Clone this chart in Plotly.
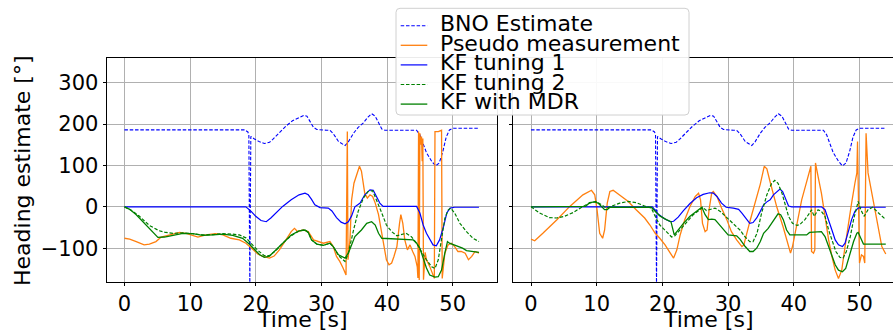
import plotly.graph_objects as go

W, H = 893, 332

# ---- data: time [s] and heading [deg] ----
bno_t = [0, 18.3, 18.8, 18.95, 19.1, 19.25, 19.8, 20.6, 21.3, 22.1, 22.6, 23.6, 24.6, 25.6,
         26.6, 27.3, 27.8, 28.3, 28.8, 29.3, 29.8, 30.8, 31.3, 31.8, 32.6, 33.3, 33.6, 34.1,
         34.9, 35.6, 36.0, 36.4, 37.1, 37.65, 38.2, 38.7, 39.2, 39.7, 44.5, 45.0, 45.5, 46.0,
         46.8, 47.4, 47.95, 48.5, 49.0, 49.5, 50.1, 54.0]
bno_v = [186, 186, 181, 174, -190, 170, 164, 157, 153, 156, 163, 180, 195, 208,
         216, 221, 219, 205, 192, 187, 186, 185, 185, 177, 158, 150, 148, 157,
         178, 192, 197, 203, 217, 225, 219, 203, 188, 185, 185, 174, 152, 131,
         110, 99, 106, 134, 168, 186, 190, 190]

# left panel
l_pm_t = [0, 0.8, 1.8, 3.0, 3.8, 4.8, 5.6, 6.9, 8.4, 9.4, 10.4, 11.2, 12.4, 13.9, 15.0, 16.2,
          17.5, 18.5, 19.5, 20.3, 21.1, 22.1, 22.8, 23.6, 24.6, 25.4, 25.9, 26.4, 27.2, 28.0,
          28.8, 29.5, 30.3, 31.3, 31.8, 32.3, 32.8, 33.3, 33.75, 33.95, 34.05, 34.35, 34.6,
          34.96, 35.4, 35.8, 36.1, 36.4, 36.6, 37.0, 37.4, 37.8, 38.2, 38.7, 39.2, 39.6, 39.9,
          40.3, 40.7, 41.05, 41.5, 41.9, 42.1, 42.4, 42.7, 43.1, 43.5, 43.9, 44.25, 44.6, 44.7,
          44.8, 44.9, 45.0, 45.1, 45.25, 45.35, 45.45, 45.55, 45.8, 46.0, 46.5, 46.9, 47.2,
          47.3, 47.8, 48.3, 48.4, 48.8, 49.3, 49.8, 50.3, 50.8, 51.3, 51.9, 52.4, 52.9, 53.4, 54.0]
l_pm_v = [-76, -78, -84, -92, -90, -84, -73, -68, -62, -64, -68, -73, -68, -65, -68, -76,
          -80, -88, -102, -114, -120, -124, -119, -104, -80, -60, -52, -60, -56, -60,
          -80, -84, -88, -84, -96, -120, -132, -148, -165, 182, -128, -80, 17,
          57, 81, 98, 86, 57, 33, 21, 29, 25, 9, -19, -64, -104, -128,
          -140, -136, -120, -96, -40, -19, -40, -80, -104, -92, -108, -120, -145, -172,
          182, -177, 178, 150, 170, 110, 165, -176, -110, -128, -144, -161, -173,
          182, 182, 185, -173, -112, -92, -88, -96, -108, -108, -112, -128, -120, -108, -112]

l_kf1_t = [0, 18.5, 19.3, 20.0, 20.8, 21.6, 22.3, 23.1, 24.1, 25.4, 26.6, 27.5, 28.0, 28.5,
           29.0, 29.8, 31.05, 31.6, 32.3, 33.0, 33.6, 34.1, 34.6, 35.1, 35.9, 36.6, 37.4,
           37.9, 38.4, 38.9, 39.4, 44.5, 45.0, 45.5, 46.0, 46.5, 47.0, 47.5, 48.0, 48.6,
           49.1, 49.6, 50.3, 54.0]
l_kf1_v = [0, 0, -11, -23, -33, -36, -27, -14, 1, 17, 29, 33, 29, 18,
           5, -2, -3, -10, -26, -37, -41, -36, -22, 0, 9, 29, 41,
           40, 25, 9, 1, 1, -15, -44, -64, -80, -92, -94, -80, -48,
           -15, -3, -1, -1]

l_kf2_t = [0, 1.0, 2.3, 3.8, 5.3, 6.3, 7.4, 8.9, 10.4, 12.0, 13.5, 15.0, 16.5, 17.5, 18.5,
           19.3, 20.3, 21.3, 22.1, 23.1, 24.1, 25.4, 26.6, 27.5, 28.0, 28.5, 29.3, 30.3,
           31.3, 31.8, 32.6, 33.6, 34.1, 34.9, 35.6, 36.4, 37.1, 37.8, 38.4, 39.2, 39.9,
           40.7, 41.5, 42.2, 42.9, 43.7, 44.5, 45.3, 46.0, 46.8, 47.3, 47.8, 48.3, 48.8,
           49.3, 49.7, 50.3, 51.1, 52.1, 53.1, 54.0]
l_kf2_v = [0, -8, -23, -45, -58, -62, -64, -63, -65, -68, -67, -65, -66, -68, -75,
           -88, -105, -118, -118, -105, -88, -70, -58, -56, -62, -80, -90, -93,
           -88, -96, -118, -132, -112, -56, -11, 21, 37, 39, 17, -15, -44,
           -60, -70, -67, -64, -72, -88, -110, -128, -145, -149, -128, -75, -28,
           -8, -3, -15, -40, -60, -76, -84]

l_mdr_t = [0, 0.8, 1.8, 2.8, 3.8, 4.6, 5.1, 6.1, 7.4, 8.9, 10.4, 11.9, 13.5, 15.0, 16.5,
           18.0, 19.0, 19.8, 20.6, 21.3, 22.1, 23.1, 24.1, 25.4, 26.6, 27.5, 28.0, 28.5,
           29.3, 30.3, 31.3, 31.8, 32.6, 33.6, 34.1, 34.6, 35.1, 35.6, 36.1, 36.9, 37.65,
           38.2, 38.7, 39.2, 41.5, 44.0, 44.5, 45.0, 45.5, 46.0, 46.5, 47.3, 47.8, 48.3,
           48.8, 49.2, 49.5, 50.1, 50.8, 51.5, 52.1, 53.0, 54.0]
l_mdr_v = [0, -6, -19, -36, -52, -68, -74, -73, -68, -64, -65, -69, -68, -66, -69,
           -76, -90, -104, -116, -122, -119, -104, -88, -68, -58, -56, -62, -80,
           -90, -93, -88, -96, -116, -124, -112, -92, -72, -64, -56, -40, -36,
           -44, -64, -76, -78, -80, -88, -100, -124, -148, -165, -170, -169, -153,
           -112, -84, -88, -92, -96, -100, -106, -108, -110]

# right panel
r_pm_t = [0, 0.56, 1.8, 3.9, 5.9, 7.9, 9.2, 9.7, 10.05, 10.45, 10.9, 11.2, 11.6, 12.0, 12.5,
          13.5, 14.8, 16.0, 17.3, 18.1, 18.9, 19.6, 20.4, 21.2, 21.7, 22.2, 22.7, 23.4, 24.2,
          25.0, 25.5, 25.8, 26.1, 26.5, 26.8, 27.1, 27.5, 27.75, 28.3, 29.0, 29.8, 30.5,
          31.3, 32.1, 32.4, 33.3, 34.35, 34.9, 35.5, 35.9, 36.4, 37.4, 38.4, 39.2, 39.5,
          39.8, 40.4, 41.2, 41.96, 42.5, 42.6, 42.7, 43.0, 43.2, 43.3, 43.7, 44.2, 44.75,
          45.3, 45.8, 46.3, 46.8, 47.3, 47.8, 48.3, 48.8, 49.3, 49.6, 49.7, 49.9, 50.0,
          50.3, 50.6, 50.8, 51.0, 51.3, 51.85, 52.4, 52.9, 53.4, 54.0]
r_pm_v = [-78, -82, -64, -32, 1, 29, 40, 29, -7, -64, -76, -56, 9, 37, 40,
          29, 13, -7, -27, -44, -64, -76, -92, -112, -124, -104, -68, -31, 1,
          25, 33, 17, -40, -60, -56, -7, 33, 37, 25, -3, -31, -60,
          -80, -96, -92, -36, 23, 55, 98, 92, 60, 0, -50, -92, -112,
          -96, -45, 17, 61, 90, 98, -108, -112, -104, 106, 73, 33, -23,
          -80, -120, -153, -173, -153, -96, -40, 9, 57, 82, 158, -112, -136,
          -116, -120, -136, 178, 82, 33, -7, -56, -96, -114]

r_kf1_t = [0, 18.5, 19.3, 20.3, 21.2, 21.7, 22.4, 23.2, 24.2, 25.2, 26.2, 27.2, 27.75, 28.3,
           29.0, 29.7, 30.8, 31.6, 32.1, 32.8, 33.3, 33.8, 34.35, 34.9, 35.4, 35.9, 36.4,
           36.9, 37.4, 37.9, 38.3, 38.7, 39.2, 39.7, 44.2, 44.75, 45.3, 45.8, 46.3, 46.8,
           47.4, 47.8, 48.3, 48.8, 49.3, 49.8, 50.3, 54.0]
r_kf1_v = [0, 0, -17, -29, -36, -35, -25, -9, 8, 22, 30, 34, 33, 25,
           9, -1, -3, -6, -15, -31, -40, -38, -27, -11, 5, 12, 17,
           29, 37, 43, 37, 21, 2, 0, 0, -7, -31, -56, -80, -92,
           -96, -88, -60, -31, -11, -3, -1, -1]

r_kf2_t = [0, 1.3, 2.8, 3.9, 5.1, 6.4, 7.7, 8.9, 9.9, 10.7, 11.5, 12.2, 13.5, 14.8, 16.0,
           17.3, 18.3, 18.9, 19.6, 20.6, 21.4, 21.9, 22.7, 23.7, 24.7, 25.7, 26.1, 26.7,
           27.5, 28.0, 28.8, 29.8, 30.8, 31.8, 32.6, 33.3, 33.8, 34.4, 35.1, 35.9, 36.6,
           37.1, 37.6, 38.2, 38.7, 39.2, 39.8, 40.5, 40.9, 41.7, 42.4, 42.7, 43.1, 43.7,
           44.2, 44.75, 45.3, 45.8, 46.4, 47.0, 47.5, 48.0, 48.6, 49.1, 49.6, 49.8, 50.2,
           50.7, 51.3, 52.0, 52.9, 54.0]
r_kf2_v = [0, -15, -26, -27, -23, -14, -1, 9, 13, 5, -3, 1, 9, 13, 10,
           2, -3, -23, -44, -60, -73, -70, -56, -36, -19, -7, -1, -9,
           -6, -3, -11, -27, -41, -56, -73, -84, -84, -64, -15, 29, 56,
           64, 57, 33, 5, -23, -40, -45, -43, -31, -15, -7, -23, -7,
           -11, -23, -56, -80, -108, -122, -124, -108, -72, -31, 1, 13, -7,
           -23, -7, -1, -15, -31]

r_mdr_t = [0, 8.3, 8.9, 9.7, 10.2, 10.7, 11.2, 11.6, 12.0, 18.3, 18.9, 19.6, 20.6, 21.3,
           21.8, 22.4, 23.2, 24.2, 25.2, 26.0, 26.5, 27.0, 27.5, 28.0, 28.5, 29.3, 30.0,
           31.3, 31.8, 32.6, 33.3, 33.8, 34.35, 34.9, 35.4, 36.1, 36.6, 37.1, 37.6, 38.0,
           38.4, 38.9, 39.4, 41.96, 42.4, 44.2, 44.75, 45.3, 45.8, 46.3, 46.8, 47.4, 47.9,
           48.45, 49.1, 49.6, 49.8, 50.2, 50.6, 54.0]
r_mdr_v = [0, 1, 10, 12, 9, 1, -7, -7, -1, -1, -11, -22, -31, -36,
           -68, -56, -40, -23, -11, -1, -19, -31, -30, -31, -40, -56, -68,
           -70, -78, -96, -108, -108, -100, -84, -64, -52, -41, -27, -17, -19,
           -31, -56, -68, -68, -62, -60, -72, -96, -120, -140, -153, -157, -149,
           -120, -84, -64, -62, -76, -90, -90]

x_ticks = [0, 10, 20, 30, 40, 50]
y_ticks = [-100, 0, 100, 200, 300]
labels = ["BNO Estimate", "Pseudo measurement", "KF tuning 1", "KF tuning 2", "KF with MDR"]

# ---- styling ----
FONT = "DejaVu Sans"
BLUE, ORANGE, GREEN = "#0000ff", "#ff7f0e", "#008000"
DASH = "3.5px,1.8px"
styles = [
    dict(color=BLUE, width=1.1, dash=DASH),
    dict(color=ORANGE, width=1.3, dash="solid"),
    dict(color=BLUE, width=1.2, dash="solid"),
    dict(color=GREEN, width=1.2, dash=DASH),
    dict(color=GREEN, width=1.3, dash="solid"),
]


def px(x):
    return x / W


def py(y):
    return 1 - y / H


fig = go.Figure()

panels = [
    ("x", "y", [(bno_t, bno_v), (l_pm_t, l_pm_v), (l_kf1_t, l_kf1_v), (l_kf2_t, l_kf2_v), (l_mdr_t, l_mdr_v)]),
    ("x2", "y2", [(bno_t, bno_v), (r_pm_t, r_pm_v), (r_kf1_t, r_kf1_v), (r_kf2_t, r_kf2_v), (r_mdr_t, r_mdr_v)]),
]
for xa, ya, series in panels:
    for (t, v), name, st in zip(series, labels, styles):
        fig.add_trace(go.Scatter(x=t, y=v, mode="lines", name=name, line=st,
                                 xaxis=xa, yaxis=ya, showlegend=False, hoverinfo="skip"))

ydom = [py(281.7), py(58.3)]
axis_common = dict(
    showgrid=True, gridcolor="#b0b0b0", gridwidth=1, zeroline=False,
    showline=True, linecolor="#000000", linewidth=1.1,
    ticks="outside", ticklen=3, tickwidth=1.1, tickcolor="#000000",
    tickfont=dict(family=FONT, size=21, color="#000000"),
)
fig.update_layout(
    width=W, height=H, margin=dict(l=0, r=0, t=0, b=0),
    paper_bgcolor="white", plot_bgcolor="white", showlegend=False,
    font=dict(family=FONT, color="#000000"),
    xaxis=dict(domain=[px(106.7), px(496.7)], range=[-2.7, 56.7], tickvals=x_ticks,
               mirror=True, anchor="y", **axis_common),
    yaxis=dict(domain=ydom, range=[-181, 359], tickvals=y_ticks,
               mirror=True, anchor="x", **axis_common),
    xaxis2=dict(domain=[px(513.3), 1.0], range=[-2.7, 55.1], tickvals=x_ticks,
                mirror=True, anchor="y2", **axis_common),
    yaxis2=dict(domain=ydom, range=[-181, 359], tickvals=y_ticks, showticklabels=False,
                mirror=False, anchor="x2", **axis_common),
)

# axis titles
ann = [
    dict(text="Time [s]", x=px(301.7), y=py(319), xanchor="center", yanchor="middle",
         font=dict(size=22)),
    dict(text="Time [s]", x=px(708.4), y=py(319), xanchor="center", yanchor="middle",
         font=dict(size=22)),
    dict(text="Heading estimate [°]", x=px(22), y=py(171), textangle=-90,
         xanchor="center", yanchor="middle", font=dict(size=22)),
]

# legend box
x0, x1, y0, y1, r = 396, 689, 8.3, 115, 4
path = (f"M {px(x0 + r)},{py(y0)} L {px(x1 - r)},{py(y0)} Q {px(x1)},{py(y0)} {px(x1)},{py(y0 + r)} "
        f"L {px(x1)},{py(y1 - r)} Q {px(x1)},{py(y1)} {px(x1 - r)},{py(y1)} "
        f"L {px(x0 + r)},{py(y1)} Q {px(x0)},{py(y1)} {px(x0)},{py(y1 - r)} "
        f"L {px(x0)},{py(y0 + r)} Q {px(x0)},{py(y0)} {px(x0 + r)},{py(y0)} Z")
shapes = [dict(type="path", path=path, xref="paper", yref="paper", layer="above",
               fillcolor="rgba(255,255,255,0.92)", line=dict(color="#d0d0d0", width=1))]
for i, (name, st) in enumerate(zip(labels, styles)):
    ly = 25.7 + 19.6 * i
    shapes.append(dict(type="line", xref="paper", yref="paper", layer="above",
                       x0=px(400.7), x1=px(427.3), y0=py(ly), y1=py(ly), line=st))
    ann.append(dict(text=name, x=px(437.5), y=py(ly - 2.3), xanchor="left", yanchor="middle",
                    font=dict(size=22)))

for a in ann:
    a.update(xref="paper", yref="paper", showarrow=False)
fig.update_layout(annotations=ann, shapes=shapes)

fig.write_html("out.html")
